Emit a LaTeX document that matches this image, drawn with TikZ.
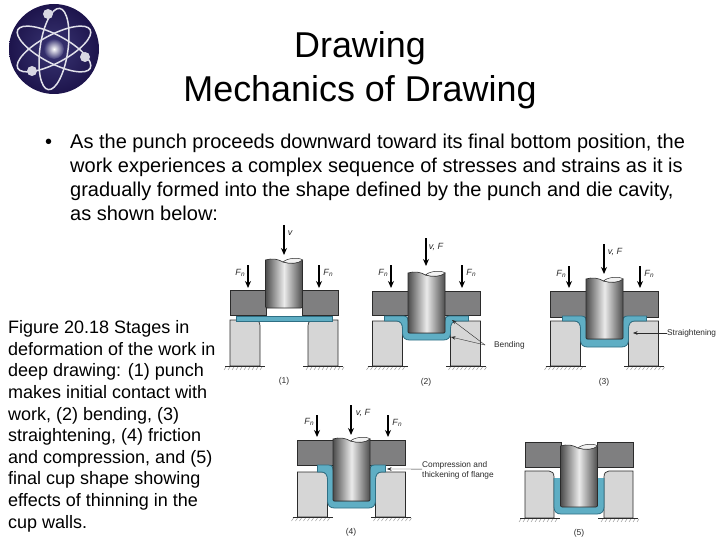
\documentclass[tikz,border=0pt]{standalone}
\usepackage{fontspec}
\setmainfont{Liberation Sans}
\usepackage{tikz}
\usetikzlibrary{arrows.meta}
\definecolor{holdgray}{HTML}{7F7F80}
\definecolor{diegray}{HTML}{D6D6D6}
\definecolor{workblue}{HTML}{5FAEC4}
\definecolor{workedge}{HTML}{2F6F84}
\definecolor{inkdark}{HTML}{2B2B2B}
\definecolor{logonavy}{HTML}{1D144C}
\definecolor{logomid}{HTML}{3A3674}
\tikzset{
  holder/.style={draw=inkdark, fill=holdgray, line width=0.7pt},
  diepart/.style={draw=inkdark, fill=diegray, line width=0.7pt},
  work/.style={draw=workedge, fill=workblue, line width=0.8pt},
  punchbody/.style={draw=inkdark, line width=0.6pt, left color=black!70, right color=black!70, middle color=black!8},
  punchtop/.style={draw=inkdark, fill=black!5, line width=0.5pt},
  base/.style={draw=inkdark, line width=0.8pt},
  hatch/.style={draw=black!50, line width=0.3pt},
  force/.style={-{Stealth[length=7pt,width=6pt]}, draw=black, line width=1.2pt},
  leader/.style={-{Stealth[length=4.5pt,width=3.5pt]}, draw=inkdark, line width=0.4pt},
  flab/.style={font=\fontsize{9}{10}\selectfont\itshape, text=inkdark, inner sep=0pt},
  note/.style={font=\fontsize{8.3}{10}\selectfont, text=inkdark, inner sep=0pt},
  stagenum/.style={font=\fontsize{8.5}{10}\selectfont, text=inkdark, inner sep=0pt},
  orbit/.style={draw=white!85!logomid, line width=1.5pt},
  electron/.style={circle, fill=white!80!logomid, minimum size=10pt, inner sep=0pt},
  headline/.style={font=\fontsize{35.9}{40}\selectfont, anchor=base, inner sep=0pt},
  bodyline/.style={font=\fontsize{20}{24}\selectfont, anchor=base west, inner sep=0pt},
  capline/.style={font=\fontsize{18}{21}\selectfont, anchor=base west, inner sep=0pt},
}
% cx, y top, y bottom
\newcommand{\holders}[3]{
  \draw[holder] ({#1-54},#2) rectangle ({#1-18},#3);
  \draw[holder] ({#1+18},#2) rectangle ({#1+54},#3);
}
% cx, half gap, y top, y bottom
\newcommand{\dies}[4]{
  \draw[diepart] ({#1-54},#3) -- ({#1-#2-5},#3) .. controls ({#1-#2-2},#3) and ({#1-#2},{#3+2}) .. ({#1-#2},{#3+6}) -- ({#1-#2},#4) -- ({#1-54},#4) -- cycle;
  \draw[diepart] ({#1+54},#3) -- ({#1+#2+5},#3) .. controls ({#1+#2+2},#3) and ({#1+#2},{#3+2}) .. ({#1+#2},{#3+6}) -- ({#1+#2},#4) -- ({#1+54},#4) -- cycle;
  \foreach \gx in {-1,1} {
    \draw[base] ({#1+\gx*59},#4) -- ({#1+\gx*19},#4);
    \foreach \hx in {0,4,...,36}
      \draw[hatch] ({#1+\gx*59-\gx*\hx+1},{#4+1}) -- ({#1+\gx*59-\gx*\hx-1},{#4+4});
  }
}
% cx, y top, y bottom
\newcommand{\punch}[3]{
  \shade[punchbody] ({#1-18.5},{#2+1}) .. controls ({#1-12},{#2-1}) and ({#1-6},{#2}) .. ({#1-1},{#2+3}) .. controls ({#1+6},{#2+5}) and ({#1+14},{#2+5}) .. ({#1+18.5},{#2+1}) -- ({#1+18.5},{#3-1}) -- ({#1+17},#3) -- ({#1-17},#3) -- ({#1-18.5},{#3-1}) -- cycle;
  \draw[punchtop] ({#1-1},{#2+3}) .. controls ({#1+3},{#2-1}) and ({#1+15},{#2-2}) .. ({#1+18.5},{#2+1}) .. controls ({#1+14},{#2+5}) and ({#1+6},{#2+5}) .. ({#1-1},{#2+3}) -- cycle;
}
% cx, flange top, flange bottom, inner bottom, outer bottom, flange half
\newcommand{\cupwork}[6]{
  \draw[work, line join=round] ({#1-#6},#2) -- ({#1-23},#2) .. controls ({#1-19},#2) and ({#1-18},{#2+3}) .. ({#1-18},{#2+6}) -- ({#1-18},#4) -- ({#1+18},#4) -- ({#1+18},{#2+6}) .. controls ({#1+18},{#2+3}) and ({#1+19},#2) .. ({#1+23},#2) -- ({#1+#6},#2) -- ({#1+#6},#3) -- ({#1+30},#3) .. controls ({#1+26},#3) and ({#1+24},{#3+3}) .. ({#1+24},{#3+8}) -- ({#1+24},{#5-7}) .. controls ({#1+24},{#5-2}) and ({#1+21},#5) .. ({#1+17},#5) -- ({#1-17},#5) .. controls ({#1-21},#5) and ({#1-24},{#5-2}) .. ({#1-24},{#5-7}) -- ({#1-24},{#3+8}) .. controls ({#1-24},{#3+3}) and ({#1-26},#3) .. ({#1-30},#3) -- ({#1-#6},#3) -- cycle;
}
% name, x, y start, y end
\newcommand{\forcearrow}[4]{
  \coordinate (#1s) at (#2,#3);
  \coordinate (#1e) at (#2,#4);
  \draw[force] (#1s) -- (#1e);
}
\newcommand{\fn}{F\kern0.3pt\raisebox{-1.5pt}{\fontsize{6.5}{7}\selectfont n}}
\begin{document}
\begin{tikzpicture}[x=1pt,y=-1pt]
\useasboundingbox (0,0) rectangle (720,540);
\fill[white] (0,0) rectangle (720,540);
% logo
\shade[inner color=logomid, outer color=logonavy] (54,49) circle (45);
\shade[inner color=white, outer color=logomid] (54,49) circle (10);
\draw[orbit, rotate around={82:(54,49)}] (54,49) ellipse [x radius=41, y radius=14];
\draw[orbit, rotate around={28:(54,49)}] (54,49) ellipse [x radius=41, y radius=14];
\draw[orbit, rotate around={-28:(54,49)}] (54,49) ellipse [x radius=41, y radius=14];
\node[electron] (e1) at (48,14) {};
\node[electron] (e2) at (32,71) {};
\node[electron] (e3) at (85,57) {};
% heading
\node[headline] (head1) at (360,58) {Drawing};
\node[headline] (head2) at (360,102) {Mechanics of Drawing};
% bullet text
\node[bodyline] (bul) at (45,148.5) {•};
\node[bodyline] (b1) at (70,148.5) {As the punch proceeds downward toward its final bottom position, the};
\node[bodyline] (b2) at (70,172.5) {work experiences a complex sequence of stresses and strains as it is};
\node[bodyline] (b3) at (70,196.5) {gradually formed into the shape defined by the punch and die cavity,};
\node[bodyline] (b4) at (70,220.5) {as shown below:};
% figure caption
\node[capline] (c1) at (8,333) {Figure 20.18 Stages in};
\node[capline] (c2) at (8,355) {deformation of the work in};
\node[capline] (c3) at (8,376.5) {deep drawing: (1) punch};
\node[capline] (c4) at (8,398) {makes initial contact with};
\node[capline] (c5) at (8,420) {work, (2) bending, (3)};
\node[capline] (c6) at (8,441) {straightening, (4) friction};
\node[capline] (c7) at (8,463) {and compression, and (5)};
\node[capline] (c8) at (8,484.5) {final cup shape showing};
\node[capline] (c9) at (8,506) {effects of thinning in the};
\node[capline] (c10) at (8,528) {cup walls.};
% stage 1
\holders{284}{290}{315}
\dies{284}{24}{320}{366}
\draw[work] (236,316) rectangle (332,321);
\punch{284}{259}{308}
\forcearrow{va}{284}{225}{255}
\forcearrow{fa}{248}{265}{288}
\forcearrow{ga}{319}{265}{288}
\node[flab] (vla) at (290,233) {v};
\node[flab] (fla) at (240,273) {\fn};
\node[flab] (gla) at (328,273) {\fn};
\node[stagenum] (n1) at (284,381) {(1)};
% stage 2
\holders{426.5}{291}{315}
\dies{426.5}{24}{321}{366}
\cupwork{426.5}{316}{321}{333}{340}{42}
\punch{426.5}{272}{333}
\forcearrow{vb}{426}{238}{266}
\forcearrow{fb}{391}{265}{288}
\forcearrow{gb}{462}{265}{288}
\node[flab] (vlb) at (436,247) {v, F};
\node[flab] (flb) at (383,273) {\fn};
\node[flab] (glb) at (471,273) {\fn};
\node[note, anchor=west] (bend) at (494,345) {Bending};
\coordinate (bends) at (485,345);
\coordinate (benda) at (452,320);
\coordinate (bendb) at (451,337);
\draw[leader] (bends) -- (benda);
\draw[leader] (bends) -- (bendb);
\node[stagenum] (n2) at (426,382) {(2)};
% stage 3
\holders{604.5}{291}{317}
\dies{604.5}{24}{321}{366}
\cupwork{604.5}{316}{321}{339}{347}{42}
\punch{604.5}{278}{339}
\forcearrow{vc}{604}{244}{274}
\forcearrow{fc}{569}{266}{288}
\forcearrow{gc}{640}{266}{288}
\node[flab] (vlc) at (615,252) {v, F};
\node[flab] (flc) at (561,274) {\fn};
\node[flab] (glc) at (649,274) {\fn};
\node[note, anchor=west] (strai) at (667,333) {Straightening};
\coordinate (straia) at (633,333);
\draw[leader] (strai.west) -- (straia);
\node[stagenum] (n3) at (604,382) {(3)};
% stage 4
\holders{351.5}{440}{465}
\dies{351.5}{24}{472}{517}
\cupwork{351.5}{465}{472}{501}{508}{34}
\punch{351.5}{438}{501}
\forcearrow{vd}{351}{405}{435}
\forcearrow{fd}{317}{415}{437}
\forcearrow{gd}{388}{415}{437}
\node[flab] (vld) at (363,413) {v, F};
\node[flab] (fld) at (309,422) {\fn};
\node[flab] (gld) at (397,423) {\fn};
\node[note, anchor=west] (compr) at (422,465) {Compression and};
\node[note, anchor=west] (thick) at (422,475) {thickening of flange};
\coordinate (compra) at (387,469);
\draw[leader] (compr.south west) -- (compra);
\node[stagenum] (n4) at (351,532) {(4)};
% stage 5
\holders{579}{442}{467}
\dies{579}{25}{471}{518}
\fill[workblue] (554,478) -- (561,478) -- (561,507) -- (597,507) -- (597,478) -- (604,478) -- (604,507) .. controls (604,512) and (601,514) .. (597,514) -- (561,514) .. controls (557,514) and (554,512) .. (554,507) -- cycle;
\draw[work, fill=none] (554,478) -- (554,507) .. controls (554,512) and (557,514) .. (561,514) -- (597,514) .. controls (601,514) and (604,512) .. (604,507) -- (604,478);
\punch{579}{445}{507}
\node[stagenum] (n5) at (579,533) {(5)};
\end{tikzpicture}
\end{document}
